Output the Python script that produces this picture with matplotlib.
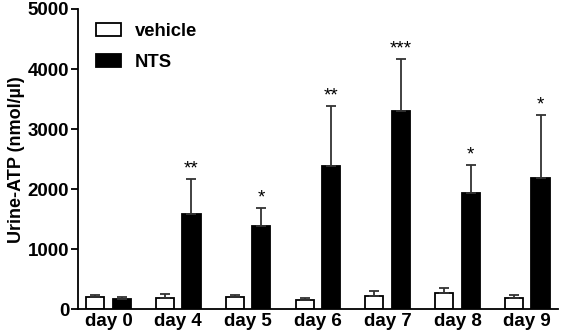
import numpy as np
import matplotlib.pyplot as plt

plt.rcParams['font.family'] = ['Liberation Sans', 'DejaVu Sans']
plt.rcParams['font.weight'] = 'bold'

days = ["day 0", "day 4", "day 5", "day 6", "day 7", "day 8", "day 9"]
vehicle = [210, 183, 210, 160, 227, 277, 193]
vehicle_err = [23, 67, 28, 23, 78, 78, 40]
nts = [172, 1583, 1383, 2383, 3300, 1938, 2188]
nts_err = [33, 594, 305, 1005, 872, 472, 1050]
stars = ["", "**", "*", "**", "***", "*", "*"]

x = np.arange(len(days))
w = 0.26
off = 0.19

fig = plt.figure(figsize=(5.61, 3.32), dpi=100)
ax = fig.add_axes([0.1385, 0.0684, 0.8562, 0.9045])

err_kw = dict(ecolor='#333333', elinewidth=1.3, capsize=3.5, capthick=1.3)
ax.bar(x - off, vehicle, w, color='white', edgecolor='black', linewidth=1.3,
       yerr=[np.zeros(len(x)), vehicle_err], error_kw=err_kw, label='vehicle')
ax.bar(x + off, nts, w, color='black', edgecolor='black', linewidth=1.3,
       yerr=[np.zeros(len(x)), nts_err], error_kw=err_kw, label='NTS')

for xi, v, e, s in zip(x, nts, nts_err, stars):
    if s:
        ax.text(xi + off, v + e + 20, s, ha='center', va='bottom',
                fontsize=13.5, fontweight='normal')

ax.set_xlim(-0.44, 6.44)
ax.set_ylim(0, 5000)
ax.set_yticks([0, 1000, 2000, 3000, 4000, 5000])
ax.set_xticks(x)
ax.set_xticklabels(days)
ax.tick_params(axis='x', length=0, labelsize=13.5, pad=3)
ax.tick_params(axis='y', length=5, width=1.3, labelsize=13.5, pad=1)
ax.set_ylabel("Urine-ATP (nmol/µl)", fontsize=13, fontweight='bold', labelpad=2)

for side in ['top', 'right']:
    ax.spines[side].set_visible(False)
for side in ['left', 'bottom']:
    ax.spines[side].set_linewidth(1.3)

ax.legend(loc='upper left', bbox_to_anchor=(0.038, 0.955), frameon=False,
          fontsize=13.3, handlelength=1.35, handleheight=0.7,
          labelspacing=0.8, handletextpad=0.75, borderpad=0, borderaxespad=0)

plt.savefig('out.png', dpi=100)
